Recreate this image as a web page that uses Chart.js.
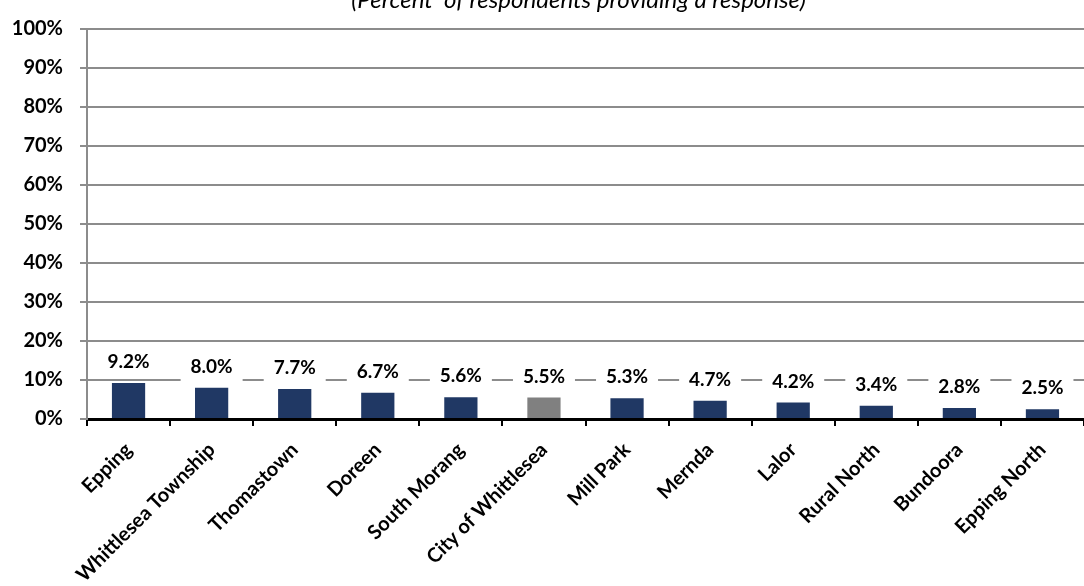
<!DOCTYPE html>
<html lang="en">
  <head>
    <meta charset="UTF-8" />
    <title>Locations of respondents</title>
    <script src="https://cdn.jsdelivr.net/npm/chart.js"></script>
    <style>
      body { margin: 0; background: #fff; }
    </style>
  </head>
  <body>
    <div style="width: 1084px; height: 586px">
      <canvas id="areaChart"></canvas>
    </div>
    <script>
      // suburbs, sorted by share of respondents
      const suburbs = [
        "Epping", "Whittlesea Township", "Thomastown", "Doreen", "South Morang",
        "City of Whittlesea", "Mill Park", "Mernda", "Lalor", "Rural North",
        "Bundoora", "Epping North",
      ];
      const percents = [9.2, 8.0, 7.7, 6.7, 5.6, 5.5, 5.3, 4.7, 4.2, 3.4, 2.8, 2.5];
      const yTicks = [0, 10, 20, 30, 40, 50, 60, 70, 80, 90, 100];
      const subtitle = "(Percent  of respondents providing a response)";

      const NAVY = "#203864";
      const GREY = "#808080";
      const FONT = "Lato";

      // subtitle sits right at the top edge, half cut off
      const subtitlePlugin = {
        id: "subtitleText",
        afterDraw(chart) {
          const c = chart.ctx;
          const area = chart.chartArea;
          c.save();
          c.font = "italic 24px " + FONT;
          c.fillStyle = "#000";
          c.textAlign = "center";
          c.textBaseline = "alphabetic";
          c.fillText(subtitle, (area.left + area.right) / 2 - 7, 8);
          c.restore();
        },
      };

      // value labels with a white box that breaks the gridlines behind them
      const valueLabels = {
        id: "valueLabels",
        afterDatasetsDraw(chart) {
          const c = chart.ctx;
          const meta = chart.getDatasetMeta(0);
          c.save();
          c.font = "bold 19px " + FONT;
          c.textAlign = "center";
          c.textBaseline = "middle";
          meta.data.forEach((bar, i) => {
            const cy = bar.y - 21;
            c.fillStyle = "#fff";
            c.fillRect(bar.x - 31, cy - 16, 62, 32);
            c.fillStyle = "#000";
            c.fillText(percents[i].toFixed(1) + "%", bar.x, cy);
          });
          c.restore();
        },
      };

      new Chart(document.getElementById("areaChart"), {
        type: "bar",
        data: {
          labels: suburbs,
          datasets: [
            {
              data: percents,
              backgroundColor: suburbs.map((s) => (s === "City of Whittlesea" ? GREY : NAVY)),
              categoryPercentage: 1,
              barPercentage: 0.4,
            },
          ],
        },
        options: {
          responsive: true,
          maintainAspectRatio: false,
          animation: false,
          layout: { padding: { top: 22, right: 0, left: 0, bottom: 0 } },
          plugins: {
            legend: { display: false },
            tooltip: { enabled: false },
          },
          scales: {
            x: {
              afterFit: (s) => { s.height = 167; },
              grid: {
                offset: true,
                drawOnChartArea: false,
                drawTicks: true,
                tickLength: 7,
                color: "#000",
                lineWidth: 2,
              },
              border: { color: "#000", width: 3 },
              ticks: {
                autoSkip: false,
                maxRotation: 45,
                minRotation: 45,
                padding: 12,
                color: "#000",
                font: { family: FONT, size: 20, weight: "bold" },
              },
            },
            y: {
              min: 0,
              max: 100,
              afterFit: (s) => { s.width = 87; },
              afterBuildTicks: (s) => { s.ticks = yTicks.map((v) => ({ value: v })); },
              grid: { color: "#8c8c8c", lineWidth: 2, tickLength: 7 },
              border: { color: "#8c8c8c", width: 2 },
              ticks: {
                padding: 17,
                color: "#000",
                font: { family: FONT, size: 20, weight: "bold" },
                callback: (v) => v + "%",
              },
            },
          },
        },
        plugins: [subtitlePlugin, valueLabels],
      });
    </script>
  </body>
</html>
